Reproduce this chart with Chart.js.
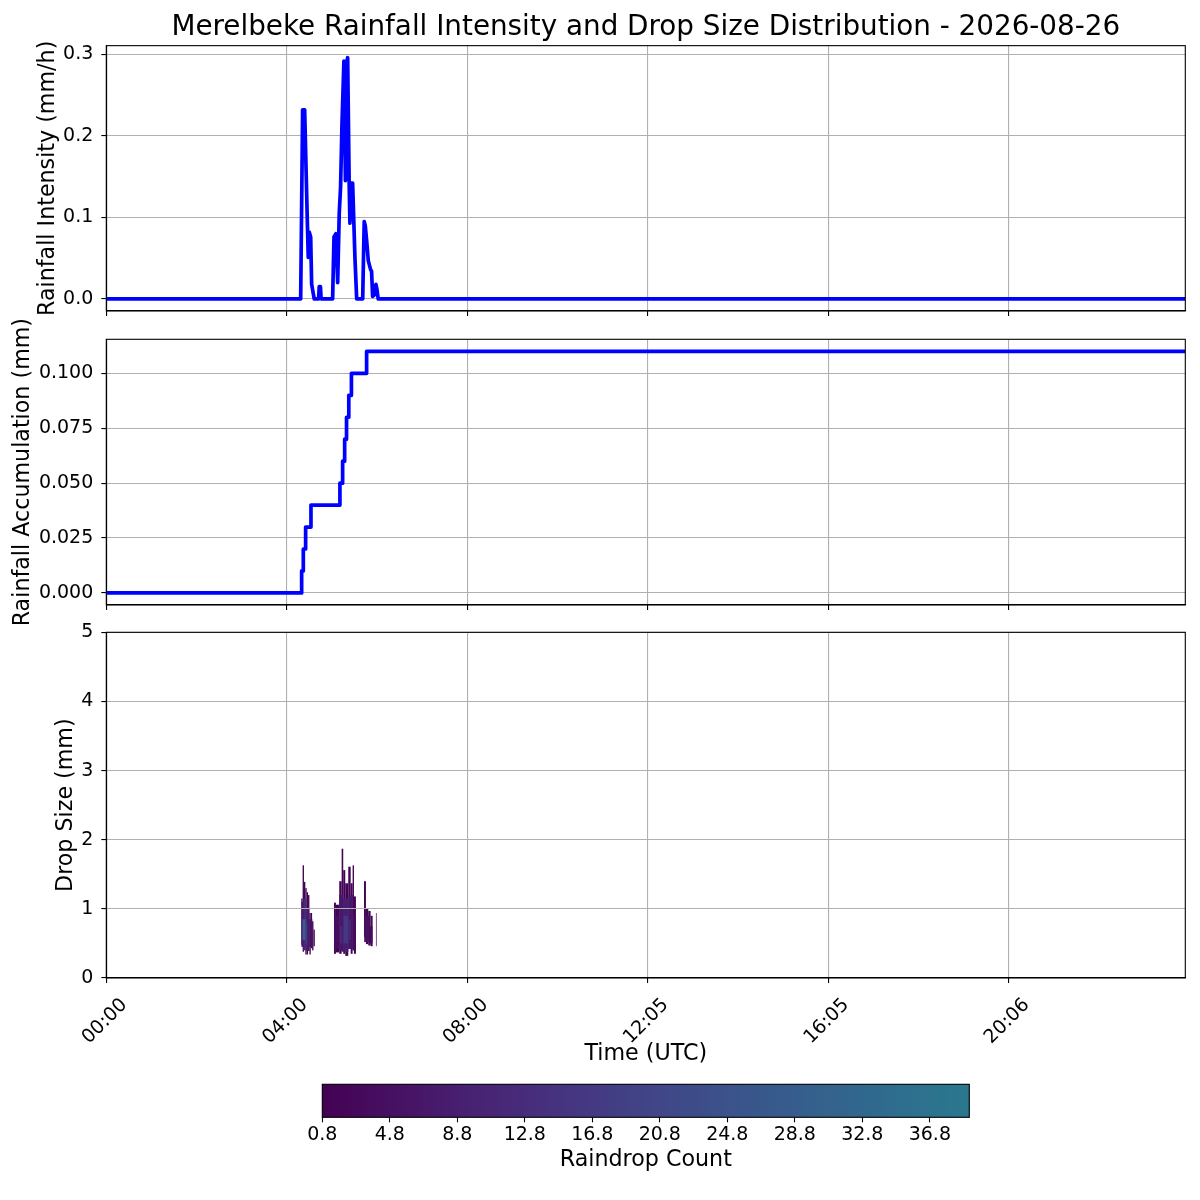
<!DOCTYPE html>
<html><head><meta charset="utf-8">
<script src="https://cdn.jsdelivr.net/npm/chart.js@4/dist/chart.umd.min.js"></script>
<style>
html,body{margin:0;padding:0;background:#fff;}
#wrap{position:relative;width:1200px;height:1200px;background:#fff;overflow:hidden;}
canvas{position:absolute;left:0;background:transparent;}
</style>
</head><body><div id="wrap">
<canvas id="c1" width="1200" height="330" style="top:0px;width:1200px;height:330px"></canvas>
<canvas id="c2" width="1200" height="340" style="top:300px;width:1200px;height:340px"></canvas>
<canvas id="c3" width="1200" height="475" style="top:600px;width:1200px;height:475px"></canvas>
<canvas id="c4" width="1200" height="125" style="top:1075px;width:1200px;height:125px"></canvas>
</div>
<script>
// ---------- DATA ----------
const chartTitle = 'Merelbeke Rainfall Intensity and Drop Size Distribution - 2026-08-26';
const timeTickValues = [0, 240, 480, 720, 960, 1200];
const timeTickLabels = ['00:00', '04:00', '08:00', '12:05', '16:05', '20:06'];
const timeMax = 1435;

const intensityT = [0, 258.5, 261.1, 263.8, 267.3, 268.6, 269.9, 271.8, 273.1, 276.5, 282.3, 283.2, 284.8, 285.7,
  301, 302.8, 305.4, 307.7, 309.8, 311.6, 313.4, 316, 318, 319.5, 321, 323, 324, 325.8, 327.6, 330.7, 333,
  341, 343, 344.4, 346.2, 348.4, 351.5, 352.8, 354.2, 356.5, 358.6, 359.9, 361.6, 1435];
const intensityV = [0, 0, 0.232, 0.232, 0.097, 0.051, 0.082, 0.076, 0.018, 0, 0, 0.015, 0.015, 0,
  0, 0.076, 0.080, 0.020, 0.105, 0.138, 0.213, 0.292, 0.145, 0.290, 0.296, 0.142, 0.093, 0.142, 0.142, 0.050, 0,
  0, 0.095, 0.090, 0.072, 0.047, 0.036, 0.034, 0.003, 0.005, 0.018, 0.012, 0, 0];

const accT = [0, 259.8, 262.0, 265.1, 272.2, 310.7, 314.3, 317.0, 319.5, 322.5, 326.0, 346.2, 1435];
const accV = [0, 0.01, 0.02, 0.03, 0.04, 0.05, 0.06, 0.07, 0.08, 0.09, 0.10, 0.11, 0.11];

const intensityTicks = [0, 0.1, 0.2, 0.3];
const accTicks = [0, 0.025, 0.05, 0.075, 0.1];
const sizeTicks = [0, 1, 2, 3, 4, 5];
const countTicks = [0.8, 4.8, 8.8, 12.8, 16.8, 20.8, 24.8, 28.8, 32.8, 36.8];
const countMin = 0.8, countMax = 39.14;

// drop size distribution cells: time start/end (minute index), drop size low/high (mm), raindrop count
const dsdT0 = [259.3, 261.1, 262.9, 264.7, 266.5, 268.3, 270.1, 271.9, 273.7, 275.5,
  302.8, 305.4, 309.8, 313.0, 315.1, 317.8, 321.8, 325.0, 327.6, 329.4,
  342.7, 345.3, 348.4, 351.5, 358.6,
  259.5, 262.0, 266.0, 270.0,
  261.0, 265.0,
  303.0, 309.8, 315.0, 322.0, 328.0,
  311.0, 315.5, 322.0,
  343.0, 350.0];
const dsdT1 = [261.1, 262.9, 264.7, 266.5, 268.3, 270.1, 271.9, 273.7, 275.5, 277.3,
  305.4, 309.8, 313.0, 315.1, 317.8, 321.8, 325.0, 327.6, 329.4, 332.0,
  345.3, 348.4, 351.5, 354.2, 359.5,
  262.0, 266.0, 270.0, 274.0,
  265.0, 267.0,
  309.8, 315.0, 322.0, 328.0, 332.0,
  314.0, 321.5, 325.0,
  350.0, 354.0];
const dsdLo = [0.48, 0.38, 0.43, 0.34, 0.34, 0.39, 0.34, 0.43, 0.40, 0.46,
  0.35, 0.37, 0.35, 0.38, 0.35, 0.32, 0.42, 0.35, 0.40, 0.35,
  0.59, 0.49, 0.47, 0.46, 0.46,
  0.45, 0.40, 0.40, 0.45,
  0.55, 0.50,
  0.42, 0.40, 0.38, 0.42, 0.40,
  0.50, 0.50, 0.55,
  0.52, 0.50];
const dsdHi = [1.15, 1.63, 1.39, 1.30, 1.24, 1.20, 0.94, 0.94, 0.82, 0.70,
  1.09, 1.06, 1.40, 1.87, 1.56, 1.37, 1.61, 1.37, 1.63, 1.18,
  1.40, 1.01, 0.97, 0.90, 0.94,
  1.10, 1.15, 1.00, 0.85,
  0.85, 0.80,
  0.90, 1.20, 1.15, 1.20, 0.90,
  0.75, 0.90, 0.85,
  0.90, 0.75];
const dsdN = [1.5, 1.5, 1.5, 1.5, 1.5, 1.5, 1.5, 1.5, 1.5, 1.5,
  1.5, 1.5, 1.5, 1.5, 1.5, 1.5, 1.5, 1.5, 1.5, 1.5,
  1.5, 1.5, 1.5, 1.5, 1.5,
  8, 12, 8, 5,
  30, 18,
  4, 7, 9, 7, 4,
  12, 16, 12,
  5, 3.5];

// ---------- HELPERS ----------
const viridisStops = ['#440154', '#471365', '#482475', '#463480', '#414487', '#3b528b', '#355f8d', '#2f6c8e', '#2a788e'];
function hexToRgb(h) { return [parseInt(h.substr(1, 2), 16), parseInt(h.substr(3, 2), 16), parseInt(h.substr(5, 2), 16)]; }
function cmap(t) {
  t = Math.max(0, Math.min(1, t));
  const p = t * (viridisStops.length - 1);
  const i = Math.min(Math.floor(p), viridisStops.length - 2);
  const f = p - i;
  const a = hexToRgb(viridisStops[i]), b = hexToRgb(viridisStops[i + 1]);
  const c = a.map((v, k) => Math.round(v + (b[k] - v) * f));
  return 'rgb(' + c.join(',') + ')';
}
function countColor(n) { return cmap((n - countMin) / (countMax - countMin)); }

Chart.defaults.font.family = "'DejaVu Sans', sans-serif";
Chart.defaults.color = '#000';

const GRID = '#b0b0b0';
const TICKF = { size: 19 };
const LABF = { size: 22.2 };

function noPad(s) { s.paddingTop = 0; s.paddingBottom = 0; s.paddingLeft = 0; s.paddingRight = 0; }

function yScale(min, max, ticks, fmt, title, titlePad) {
  return {
    type: 'linear', min: min, max: max,
    afterBuildTicks: s => { s.ticks = ticks.map(v => ({ value: v })); },
    afterFit: s => { s.width = 106.3; noPad(s); },
    ticks: { callback: v => fmt(v), font: TICKF, color: '#000', padding: 8, autoSkip: false },
    grid: { color: GRID, lineWidth: 1.1, tickLength: 5, tickColor: '#000', tickWidth: 1.1 },
    border: { display: true, color: '#000', width: 1.1 },
    title: { display: true, text: title, font: LABF, color: '#000', padding: { top: titlePad, bottom: 0 } }
  };
}
function xScale(showLabels, height, title) {
  return {
    type: 'linear', min: 0, max: timeMax,
    afterBuildTicks: s => { s.ticks = timeTickValues.map(v => ({ value: v })); },
    afterFit: s => { s.height = height; noPad(s); },
    ticks: {
      display: showLabels, autoSkip: false, minRotation: 45, maxRotation: 45, labelOffset: 18, padding: 11,
      font: TICKF, color: '#000',
      callback: v => timeTickLabels[timeTickValues.indexOf(v)]
    },
    grid: { color: GRID, lineWidth: 1.1, tickLength: 5, tickColor: '#000', tickWidth: 1.1 },
    border: { display: true, color: '#000', width: 1.1 },
    title: title
  };
}
const boxPlugin = {
  id: 'box',
  afterDraw(chart) {
    const a = chart.chartArea, ctx = chart.ctx;
    ctx.save(); ctx.strokeStyle = '#000'; ctx.lineWidth = 1.1;
    ctx.strokeRect(a.left, a.top, a.right - a.left, a.bottom - a.top);
    ctx.restore();
  }
};
const heatPlugin = {
  id: 'heat',
  beforeDraw(chart) {
    const a = chart.chartArea, ctx = chart.ctx, x = chart.scales.x, y = chart.scales.y;
    ctx.save();
    ctx.beginPath(); ctx.rect(a.left, a.top, a.right - a.left, a.bottom - a.top); ctx.clip();
    for (let i = 0; i < dsdT0.length; i++) {
      const x0 = x.getPixelForValue(dsdT0[i]), x1 = x.getPixelForValue(dsdT1[i]);
      const y0 = y.getPixelForValue(dsdLo[i]), y1 = y.getPixelForValue(dsdHi[i]);
      ctx.fillStyle = countColor(dsdN[i]);
      ctx.fillRect(x0, y1, x1 - x0, y0 - y1);
    }
    ctx.restore();
  }
};
const gradPlugin = {
  id: 'grad',
  beforeDraw(chart) {
    const a = chart.chartArea, ctx = chart.ctx, x = chart.scales.x;
    const g = ctx.createLinearGradient(x.getPixelForValue(countMin), 0, x.getPixelForValue(countMax), 0);
    for (let k = 0; k <= 40; k++) { g.addColorStop(k / 40, cmap(k / 40)); }
    ctx.save(); ctx.fillStyle = g;
    ctx.fillRect(a.left, a.top, a.right - a.left, a.bottom - a.top);
    ctx.restore();
  }
};

const toXY = (T, V) => T.map((t, i) => ({ x: t, y: V[i] }));
const common = { responsive: false, animation: false, devicePixelRatio: 1, events: [] };
const lineStyle = { borderColor: '#0000ff', borderWidth: 3.7, pointRadius: 0, tension: 0, fill: false, borderJoinStyle: 'round', borderCapStyle: 'butt' };

// ---------- PANEL 1 ----------
new Chart(document.getElementById('c1'), {
  type: 'line',
  data: { datasets: [Object.assign({ data: toXY(intensityT, intensityV) }, lineStyle)] },
  options: Object.assign({}, common, {
    layout: { autoPadding: false, padding: { left: 0, right: 14.7, top: 0, bottom: 0 } },
    plugins: {
      legend: { display: false }, tooltip: { enabled: false },
      title: { display: true, fullSize: false, text: chartTitle, color: '#000', font: { size: 27.8, weight: 'normal' }, padding: { top: 11.3, bottom: 1.0 } }
    },
    scales: {
      x: xScale(false, 19, { display: false }),
      y: yScale(-0.0148, 0.3108, intensityTicks, v => v.toFixed(1), 'Rainfall Intensity (mm/h)', 34.7)
    }
  }),
  plugins: [boxPlugin]
});

// ---------- PANEL 2 ----------
new Chart(document.getElementById('c2'), {
  type: 'line',
  data: { datasets: [Object.assign({ data: toXY(accT, accV), stepped: 'before' }, lineStyle)] },
  options: Object.assign({}, common, {
    layout: { autoPadding: false, padding: { left: 0, right: 14.7, top: 39.3, bottom: 0 } },
    plugins: { legend: { display: false }, tooltip: { enabled: false } },
    scales: {
      x: xScale(false, 35, { display: false }),
      y: yScale(-0.0055, 0.1155, accTicks, v => v.toFixed(3), 'Rainfall Accumulation (mm)', 9.7)
    }
  }),
  plugins: [boxPlugin]
});

// ---------- PANEL 3 ----------
new Chart(document.getElementById('c3'), {
  type: 'scatter',
  data: { datasets: [{ data: [], pointRadius: 0 }] },
  options: Object.assign({}, common, {
    layout: { autoPadding: false, padding: { left: 0, right: 14.7, top: 32.3, bottom: 0 } },
    plugins: { legend: { display: false }, tooltip: { enabled: false } },
    scales: {
      x: xScale(true, 97, { display: true, text: 'Time (UTC)', font: LABF, color: '#000', padding: { top: 0, bottom: 7.7 } }),
      y: yScale(0, 5, sizeTicks, v => String(Math.round(v)), 'Drop Size (mm)', 52.7)
    }
  }),
  plugins: [heatPlugin, boxPlugin]
});

// ---------- COLORBAR ----------
new Chart(document.getElementById('c4'), {
  type: 'scatter',
  data: { datasets: [{ data: [], pointRadius: 0 }] },
  options: Object.assign({}, common, {
    layout: { autoPadding: false, padding: { left: 322.3, right: 230.7, top: 9.3, bottom: 0 } },
    plugins: { legend: { display: false }, tooltip: { enabled: false } },
    scales: {
      x: {
        type: 'linear', min: countMin, max: countMax,
        afterBuildTicks: s => { s.ticks = countTicks.map(v => ({ value: v })); },
        afterFit: s => { s.height = 82.7; noPad(s); },
        ticks: { callback: v => v.toFixed(1), font: TICKF, color: '#000', padding: 1, autoSkip: false, maxRotation: 0, minRotation: 0 },
        grid: { drawOnChartArea: false, tickLength: 5, tickColor: '#000', tickWidth: 1.1 },
        border: { display: false },
        title: { display: true, text: 'Raindrop Count', font: LABF, color: '#000', padding: { top: 0, bottom: 26.7 } }
      },
      y: { display: false, min: 0, max: 1 }
    }
  }),
  plugins: [gradPlugin, boxPlugin]
});
</script>
</body></html>
